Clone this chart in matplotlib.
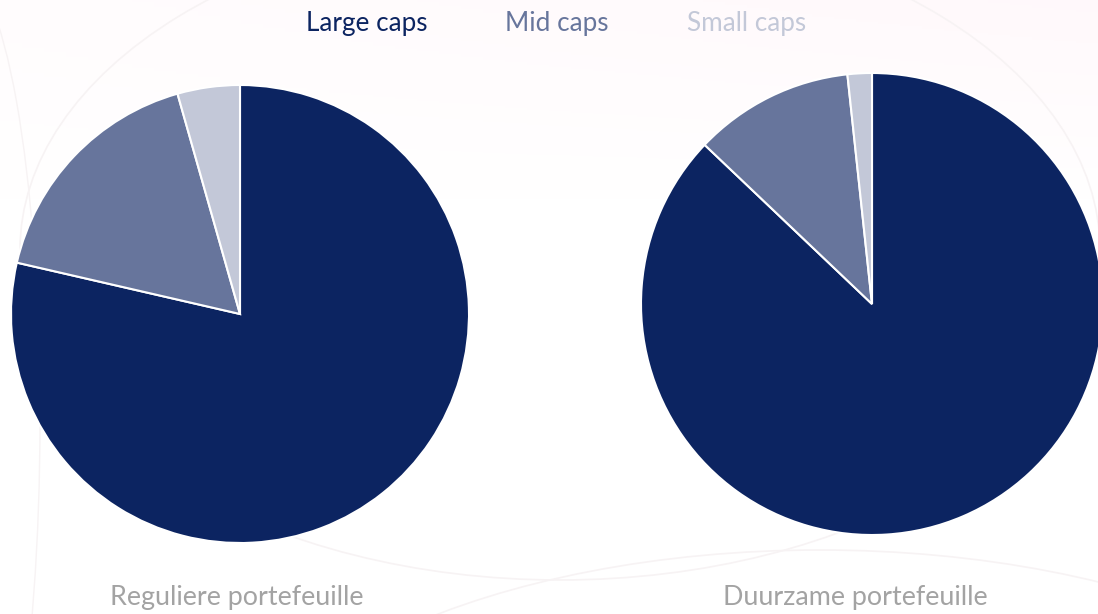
import numpy as np
import matplotlib.pyplot as plt
from matplotlib.patches import Ellipse

# data (percent)
labels = ["Large caps", "Mid caps", "Small caps"]
regular = [78.6, 17.0, 4.4]
sustainable = [87.1, 11.2, 1.7]
titles = ["Reguliere portefeuille", "Duurzame portefeuille"]
colors = ["#0c2461", "#67759c", "#c3c8d8"]

W, H = 1098, 614
fig = plt.figure(figsize=(W / 100, H / 100), dpi=100)
fig.patch.set_facecolor("white")

# faint pink wash at the top and a few faint decorative arcs
bg = fig.add_axes([0, 0, 1, 1], zorder=0)
grad = np.linspace(1, 0, 200)[:, None] * np.linspace(0.4, 1, 50)[None, :]
tint = np.ones((200, 50, 3))
tint[..., 1] -= 0.025 * grad
tint[..., 2] -= 0.015 * grad
bg.imshow(tint, extent=(0, W, 200, 0), aspect="auto")
bg.set_xlim(0, W)
bg.set_ylim(H, 0)
bg.axis("off")
arc = "#f7f3f4"
bg.add_patch(Ellipse((560, 250), 1080, 660, fill=False, ec=arc, lw=1.2))
bg.add_patch(Ellipse((820, 830), 1200, 560, fill=False, ec=arc, lw=1.2))
bg.add_patch(Ellipse((-40, 420), 160, 900, fill=False, ec=arc, lw=1.0))


def pie_axes(cx, cy, r):
    return fig.add_axes([(cx - r) / W, (H - cy - r) / H, 2 * r / W, 2 * r / H], zorder=1)


wedges = None
for (cx, cy, r), vals, title, tx in [((240, 314, 229), regular, titles[0], 237),
                                       ((872, 304, 231), sustainable, titles[1], 855)]:
    ax = pie_axes(cx, cy, r)
    w, _ = ax.pie(vals, colors=colors, startangle=90, counterclock=False,
                  wedgeprops=dict(edgecolor="white", linewidth=1.5))
    ax.set_xlim(-1, 1)
    ax.set_ylim(-1, 1)
    ax.set_aspect("equal")
    wedges = w
    fig.text(tx / W, 1 - 598 / H, title, ha="center", va="center",
             fontsize=19.4, color="#a3a3a3", family="Lato")

leg = fig.legend(wedges, labels, loc="center", bbox_to_anchor=(556 / W, 1 - 24 / H),
                 ncol=3, frameon=False, handlelength=0, handletextpad=0,
                 columnspacing=3.0, labelcolor=colors,
                 prop={"family": "Lato", "size": 18.8})
for h in leg.legend_handles:
    h.set_visible(False)

fig.savefig("out.png", dpi=100)
